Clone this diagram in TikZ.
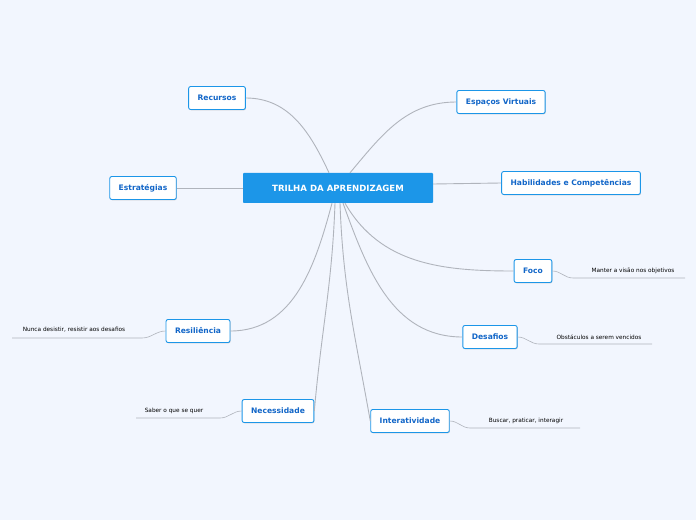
\documentclass[tikz,border=0pt]{standalone}
\usepackage{fontspec}
\setmainfont{DejaVu Sans}
\usetikzlibrary{shadows}
\definecolor{bgc}{HTML}{F2F6FE}
\definecolor{topicc}{HTML}{1C96E8}
\definecolor{textc}{HTML}{1266C8}
\definecolor{linec}{HTML}{B0B4BC}

\begin{document}
\begin{tikzpicture}[x=1bp,y=-1bp,
topic/.style={draw=topicc,fill=white,rounded corners=2pt,line width=0.9pt,
  font=\bfseries\fontsize{7.6}{8}\selectfont,text=textc,minimum height=23bp,
  inner xsep=9pt,drop shadow={shadow xshift=0.6pt,shadow yshift=-0.8pt,opacity=0.35}},
root/.style={fill=topicc,rounded corners=1pt,text=white,
  font=\bfseries\fontsize{8.6}{9}\selectfont,minimum width=190bp,minimum height=30bp},
leaf/.style={font=\fontsize{5.8}{6}\selectfont,inner sep=1pt},
link/.style={draw=linec,line width=0.9pt},
sublink/.style={draw=linec,line width=0.6pt}]
\fill[bgc] (0,0) rectangle (696,520);
\useasboundingbox (0,0) rectangle (696,520);

% central topic
\node (root) [root] at (338,188) {TRILHA DA APRENDIZAGEM};

% main topics
\node (recursos) [topic] at (217,98) {Recursos};
\node (estrategias) [topic] at (143,188) {Estratégias};
\node (resiliencia) [topic] at (198,331) {Resiliência};
\node (necessidade) [topic] at (278,411) {Necessidade};
\node (interatividade) [topic] at (410,421) {Interatividade};
\node (desafios) [topic] at (490,337) {Desafios};
\node (foco) [topic] at (533,271) {Foco};
\node (habilidades) [topic] at (571,183) {Habilidades e Competências};
\node (espacos) [topic] at (501,102) {Espaços Virtuais};

% connectors
\draw[link] (root.north) ++(-9,0) to[out=115,in=0] (recursos.east);
\draw[link] (root.west) -- (estrategias.east);
\draw[link] (root.north) ++(12,0) to[out=50,in=180] (espacos.west);
\draw[link] (root.east) ++(0,-4) -- (habilidades.west);
\draw[link] (root.south) ++(7,0) to[out=-60,in=180] (foco.west);
\draw[link] (root.south) ++(5,0) to[out=-70,in=180] (desafios.west);
\draw[link] (root.south) ++(2,0) to[out=-88,in=100] (interatividade.west);
\draw[link] (root.south) ++(-3,0) to[out=-92,in=85] (necessidade.east);
\draw[link] (root.south) ++(-6,0) to[out=-105,in=0] (resiliencia.east);

% leaves
\node (focoleaf) [leaf] at (633,271) {Manter a visão nos objetivos};
\node (desafiosleaf) [leaf] at (599,337) {Obstáculos a serem vencidos};
\node (interleaf) [leaf] at (526,421) {Buscar, praticar, interagir};
\node (necleaf) [leaf] at (174,411) {Saber o que se quer};
\node (resleaf) [leaf] at (74,330) {Nunca desistir, resistir aos desafios};

\coordinate (f1) at (573,278); \coordinate (f2) at (685,278);
\coordinate (d1) at (539,344); \coordinate (d2) at (652,344);
\coordinate (i1) at (470,428); \coordinate (i2) at (580,428);
\coordinate (n1) at (220,418); \coordinate (n2) at (136,418);
\coordinate (r1) at (142,338); \coordinate (r2) at (12,338);

\draw[sublink] (foco.east) to[out=0,in=180] (f1) -- (f2);
\draw[sublink] (desafios.east) to[out=0,in=180] (d1) -- (d2);
\draw[sublink] (interatividade.east) to[out=0,in=180] (i1) -- (i2);
\draw[sublink] (necessidade.west) to[out=180,in=0] (n1) -- (n2);
\draw[sublink] (resiliencia.west) to[out=180,in=0] (r1) -- (r2);
\end{tikzpicture}
\end{document}
